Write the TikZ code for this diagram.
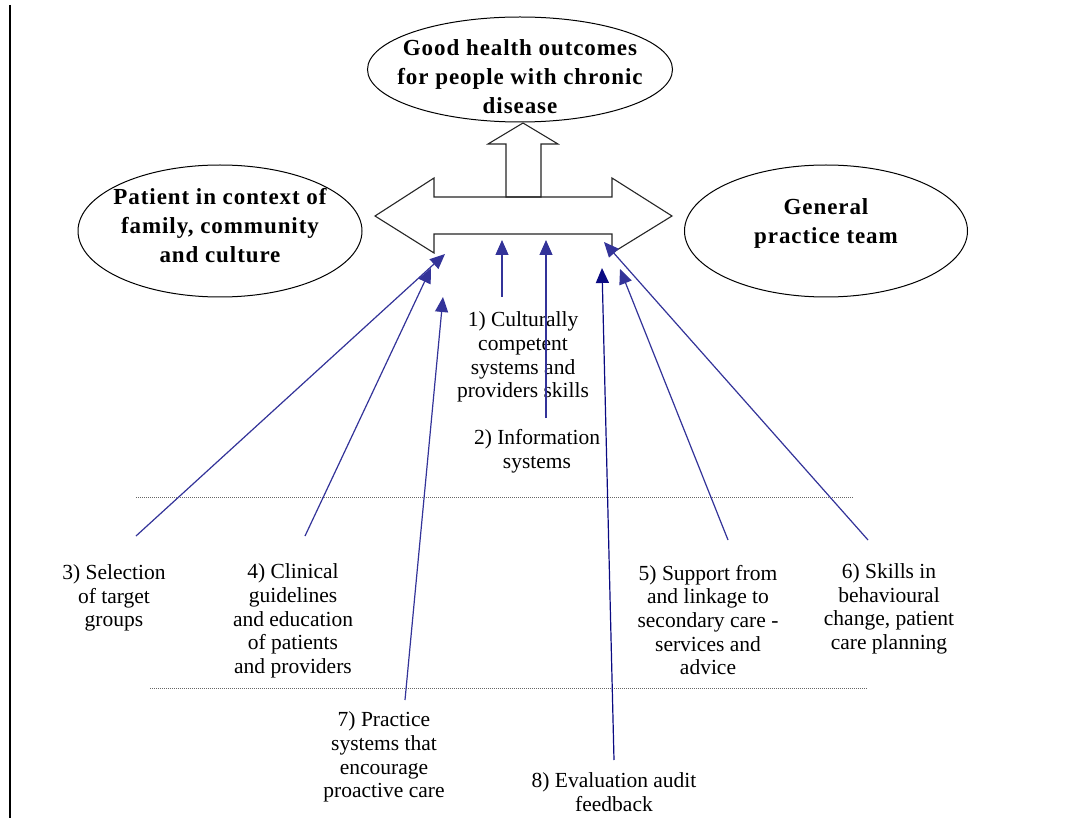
\documentclass[tikz,border=0pt]{standalone}
\usepackage{fontspec}
\setmainfont{Liberation Serif}
\newfontfamily\boldsp{Liberation Serif}[LetterSpace=4]
\usetikzlibrary{shapes.geometric,arrows.meta}
\definecolor{navy}{RGB}{51,51,153}
\definecolor{darknavy}{RGB}{10,10,130}
\begin{document}
\begin{tikzpicture}[x=1pt,y=-1pt,
  ellip/.style={draw, ellipse, line width=1pt, inner sep=0pt},
  bold/.style={font=\boldsp\bfseries\fontsize{23}{29}\selectfont, align=center, inner sep=0pt},
  lbl/.style={font=\fontsize{21.5}{23.7}\selectfont, align=center, inner sep=0pt},
  conn/.style={draw=navy, line width=1.2pt, -{Triangle[length=15pt,width=13pt]}},
  shapeline/.style={draw=black!85, line width=1.1pt, line join=miter},
  sep/.style={draw=black!60, line width=0.9pt, dash pattern=on 1pt off 1pt}
]
\useasboundingbox (0,0) rectangle (1071,818);
\fill[white] (0,0) rectangle (1071,818);
% left rule
\draw[line width=2pt] (10,5) -- (10,818);

% ellipses
\node[ellip, minimum width=305pt, minimum height=105pt] (goal) at (520,69.5) {};
\node[bold] (goalt) at (520,77) {Good health outcomes\\for people with chronic\\disease};
\node[ellip, minimum width=284pt, minimum height=132pt] (patient) at (220,231) {};
\node[bold] (patientt) at (220,226) {Patient in context of\\family, community\\and culture};
\node[ellip, minimum width=283pt, minimum height=132pt] (team) at (826,231) {};
\node[bold] (teamt) at (826,223) {General\\practice team};

% double arrow
\draw[shapeline] (375,216) -- (434,178) -- (434,197) -- (612,197) -- (612,178) -- (672,216)
  -- (612,253) -- (612,234) -- (434,234) -- (434,253) -- cycle;
% up arrow
\draw[shapeline] (506,197) -- (506,144) -- (488,144) -- (523,123) -- (558,144) -- (541,144) -- (541,197) -- cycle;

% separators
\draw[sep] (136,497) -- (853,497);
\draw[sep] (150,688) -- (867,688);

% labels
\node[lbl] (l1) at (523,357) {1) Culturally\\competent\\systems and\\providers skills};
\node[lbl] (l2) at (537,451) {2) Information\\systems};
\node[lbl] (l3) at (114,598) {3) Selection\\of target\\groups};
\node[lbl] (l4) at (293,621) {4) Clinical\\guidelines\\and education\\of patients\\and providers};
\node[lbl] (l5) at (708,620) {5) Support from\\and linkage to\\secondary care -\\services and\\advice};
\node[lbl] (l6) at (889,609) {6) Skills in\\behavioural\\change, patient\\care planning};
\node[lbl] (l7) at (384,757) {7) Practice\\systems that\\encourage\\proactive care};
\node[lbl] (l8) at (614,792) {8) Evaluation audit\\feedback};

% connector end points
\coordinate (s1) at (502,297); \coordinate (t1) at (502,240);
\coordinate (s2) at (546,418); \coordinate (t2) at (546,240);
\coordinate (s3) at (136,536); \coordinate (t3) at (445,254);
\coordinate (s4) at (305,536); \coordinate (t4) at (431,268);
\coordinate (s5) at (728,540); \coordinate (t5) at (620,269);
\coordinate (s6) at (868,540); \coordinate (t6) at (604,242);
\coordinate (s7) at (405,700); \coordinate (t7) at (443,297);
\coordinate (s8) at (614,760); \coordinate (t8) at (602,268);

\draw[conn] (s1) -- (t1);
\draw[conn] (s2) -- (t2);
\draw[conn] (s3) -- (t3);
\draw[conn] (s4) -- (t4);
\draw[conn] (s5) -- (t5);
\draw[conn] (s6) -- (t6);
\draw[conn] (s7) -- (t7);
\draw[conn, draw=darknavy] (s8) -- (t8);
\end{tikzpicture}
\end{document}
